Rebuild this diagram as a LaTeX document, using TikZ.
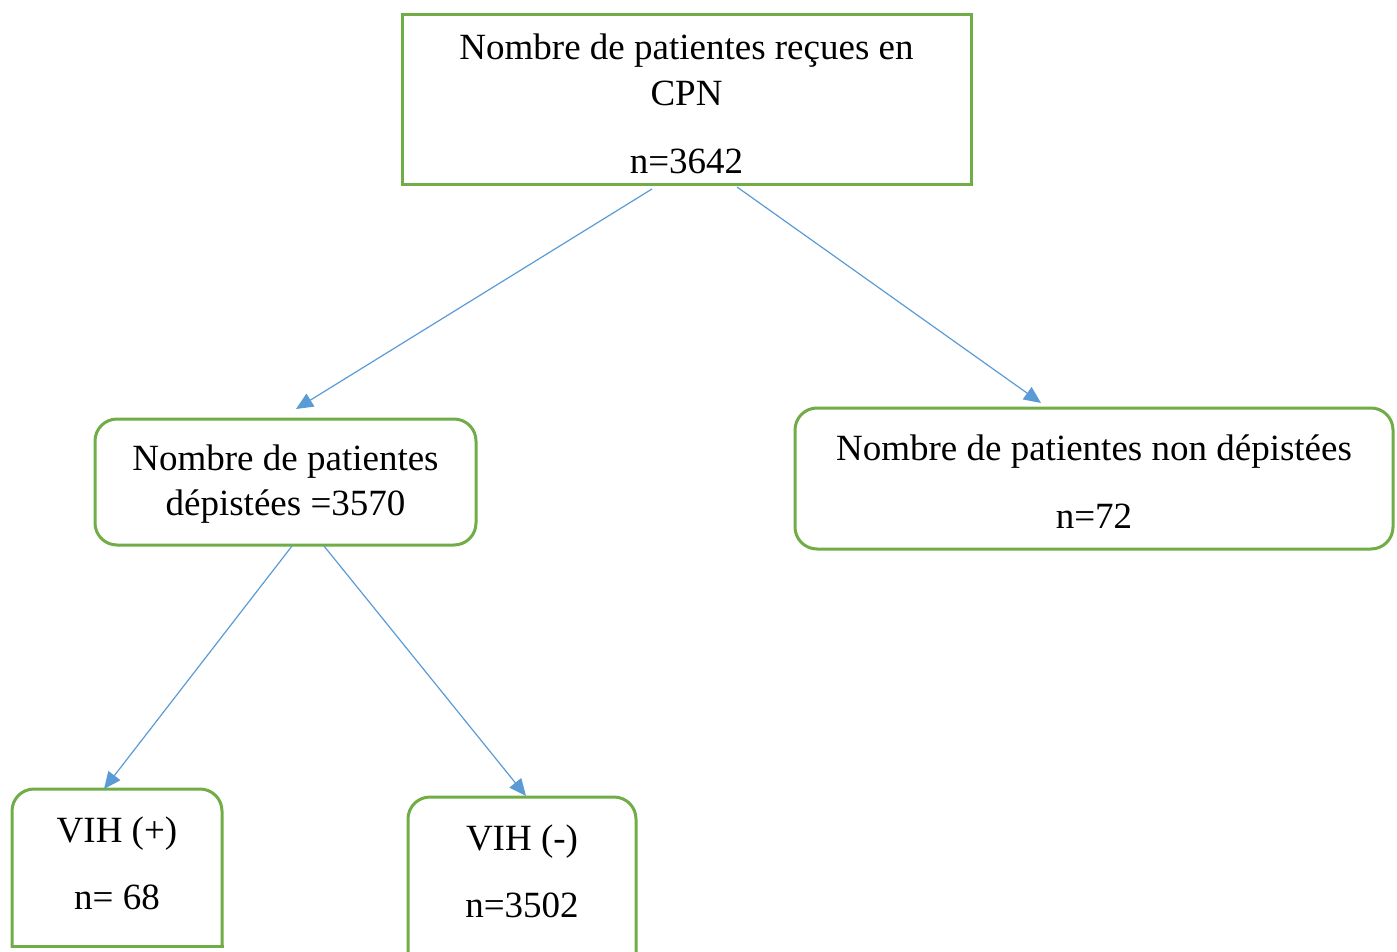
\documentclass[tikz,border=0pt]{standalone}
\usepackage{fontspec}
\setmainfont{Liberation Serif}
\usetikzlibrary{arrows.meta}
\definecolor{boxgreen}{HTML}{70AD47}
\definecolor{arrowblue}{HTML}{5B9BD5}
\begin{document}
\begin{tikzpicture}[x=1pt,y=-1pt,
  boxline/.style={draw=boxgreen, line width=3pt, line cap=rect},
  boxarea/.style={inner sep=0pt, outer sep=0pt},
  label/.style={font=\fontsize{37}{44}\selectfont, inner sep=0pt, anchor=base},
  conn/.style={draw=arrowblue, line width=1.2pt, -{Triangle[length=17pt,width=15pt]}}
]
\useasboundingbox (0,0) rectangle (1397,952);

% boxes
\node[boxarea, boxline, minimum width=569pt, minimum height=170pt] (top) at (686.5,100) {};
\node[boxarea, boxline, rounded corners=22pt, minimum width=381pt, minimum height=126pt] (dep) at (285.5,482) {};
\node[boxarea, boxline, rounded corners=22pt, minimum width=598pt, minimum height=141pt] (nondep) at (1094,478.5) {};
\node[boxarea, minimum width=210pt, minimum height=157pt] (pos) at (117,867.5) {};
\node[boxarea, minimum width=228pt, minimum height=170pt] (neg) at (522,882) {};
\draw[boxline, rounded corners=22pt] (pos.south west) -- (pos.north west) -- (pos.north east) -- (pos.south east);
\draw[boxline] (pos.south west) -- (pos.south east);
\draw[boxline, rounded corners=22pt] (neg.south west) -- (neg.north west) -- (neg.north east) -- (neg.south east);

% texts
\node[label] (t1) at (686.5,60) {Nombre de patientes reçues en};
\node[label] (t2) at (686.5,106) {CPN};
\node[label] (t3) at (686.5,174) {n=3642};
\node[label] (d1) at (285.5,470) {Nombre de patientes};
\node[label] (d2) at (285.5,515) {dépistées =3570};
\node[label] (n1) at (1094,460) {Nombre de patientes non dépistées};
\node[label] (n2) at (1094,528) {n=72};
\node[label] (p1) at (117,842) {VIH (+)};
\node[label] (p2) at (117,909) {n= 68};
\node[label] (m1) at (522,850) {VIH (-)};
\node[label] (m2) at (522,917) {n=3502};

% connector end points
\coordinate (a1s) at (652,189);
\coordinate (a1e) at (296,409);
\coordinate (a2s) at (737,187);
\coordinate (a2e) at (1041,403);
\coordinate (a3s) at (292,546);
\coordinate (a3e) at (104,789);
\coordinate (a4s) at (324,546);
\coordinate (a4e) at (526,796);

\draw[conn] (a1s) -- (a1e);
\draw[conn] (a2s) -- (a2e);
\draw[conn] (a3s) -- (a3e);
\draw[conn] (a4s) -- (a4e);
\end{tikzpicture}
\end{document}
